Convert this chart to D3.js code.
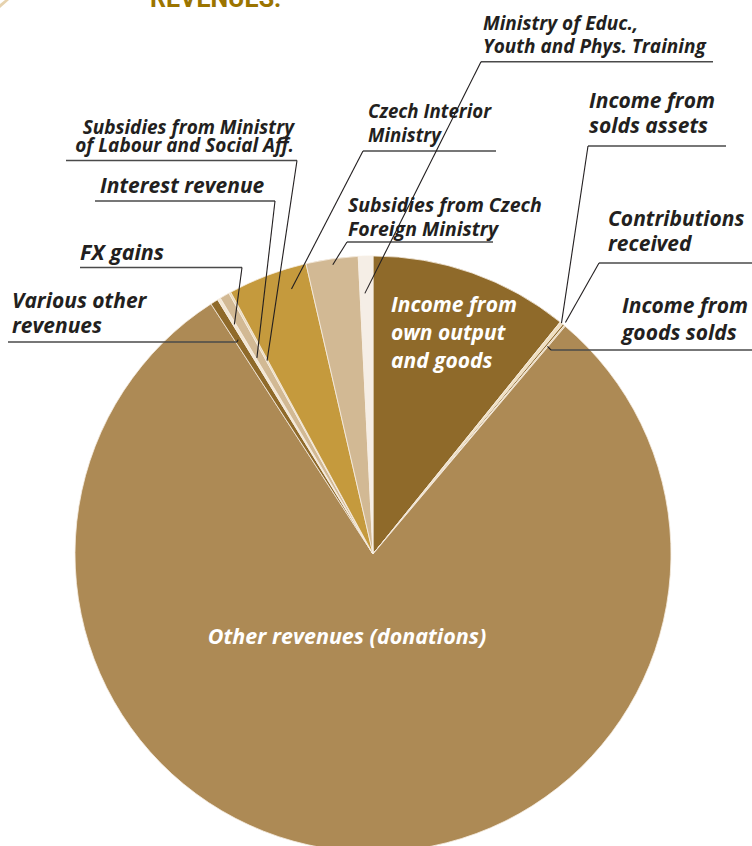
<!DOCTYPE html>
<html>
<head>
<meta charset="utf-8">
<script src="https://cdn.jsdelivr.net/npm/d3@7"></script>
<style>
  html, body { margin: 0; padding: 0; background: #fff; }
  svg { display: block; }
  text { font-family: "Open Sans", "Noto Sans", sans-serif; font-weight: 700; font-style: italic; }
</style>
</head>
<body>
<svg id="chart" width="752" height="846"></svg>
<script>
// slice order, clockwise from 12 o'clock
const categories = [
  "Income from own output and goods",
  "Income from solds assets",
  "Contributions received",
  "Income from goods solds",
  "Other revenues (donations)",
  "Various other revenues",
  "FX gains",
  "Interest revenue",
  "Subsidies from Ministry of Labour and Social Aff.",
  "Czech Interior Ministry",
  "Subsidies from Czech Foreign Ministry",
  "Ministry of Educ., Youth and Phys. Training"
];
// shares in %
const values = [10.81, 0.18, 0.10, 0.07, 79.71, 0.42, 0.17, 0.53, 0.11, 4.31, 2.82, 0.79];
const sliceColors = ["#8f6a2a", "#f0dfbf", "#8f6a2a", "#e3cda3", "#ad8a55", "#8f6a2a",
                     "#f3e7d3", "#d2b994", "#e9d8b8", "#c59a3d", "#d2b994", "#f5eee6"];
const labelLines = [
  ["Income from", "own output", "and goods"],
  ["Income from", "solds assets"],
  ["Contributions", "received"],
  ["Income from", "goods solds"],
  ["Other revenues (donations)"],
  ["Various other", "revenues"],
  ["FX gains"],
  ["Interest revenue"],
  ["Subsidies from Ministry", "of Labour and Social Aff."],
  ["Czech Interior", "Ministry"],
  ["Subsidies from Czech", "Foreign Ministry"],
  ["Ministry of Educ.,", "Youth and Phys. Training"]
];

const width = 752, height = 846;
const cx = 373, cy = 554, R = 298;

// label placement: inside labels have no leader; outside ones get an underline + leader
// at: position within the slice (0..1), rf: radius fraction where the leader ends
const layout = [
  { inside: true, x: 391, y: 312, dy: 28, size: 21, anchor: "start" },
  { x: 589, y: 108, dy: 25, size: 21, anchor: "start", u: [588, 726, 146], joint: "left", at: 0.5, rf: 1.0 },
  { x: 608, y: 226, dy: 25, size: 21, anchor: "start", u: [599, 752, 263], joint: "left", at: 0.5, rf: 1.01 },
  { x: 622, y: 313, dy: 27, size: 21, anchor: "start", u: [551, 752, 350], joint: "left", at: 0.5, rf: 0.91 },
  { inside: true, x: 347, y: 644, dy: 0, size: 21.5, anchor: "middle" },
  { x: 12, y: 308, dy: 25, size: 21, anchor: "start", u: [8, 237, 342], joint: "right", at: 0.5, rf: 0.85 },
  { x: 80, y: 260, dy: 0, size: 21.5, anchor: "start", u: [80, 242, 267.5], joint: "right", at: 0.5, rf: 0.9 },
  { x: 100, y: 193, dy: 0, size: 21, anchor: "start", u: [95, 275, 201], joint: "right", at: 0.1, rf: 0.765 },
  { x: 294, y: 133.5, dy: 18.3, size: 19, anchor: "end", u: [66, 297, 160.5], joint: "right", at: 0.5, rf: 0.74 },
  { x: 368, y: 118, dy: 24, size: 18.7, anchor: "start", u: [363, 496, 151], joint: "left", at: 0.735, rf: 0.93 },
  { x: 348, y: 212, dy: 23.5, size: 19.5, anchor: "start", u: [347, 493, 242], joint: "left", at: 0.5, rf: 0.98 },
  { x: 483, y: 30, dy: 23, size: 19, anchor: "start", u: [481, 713, 61.7], joint: "left", at: 0.37, rf: 0.875 }
];

const svg = d3.select("#chart")
    .attr("viewBox", [0, 0, width, height]);

// cut-off heading at the top edge
svg.append("polygon")
    .attr("points", "0,4 5,0 9,0 0,8")
    .attr("fill", "#e6d2ae");
svg.append("text")
    .attr("x", 150)
    .attr("y", 7)
    .attr("fill", "#9b7400")
    .style("font-family", "Roboto, sans-serif")
    .style("font-style", "normal")
    .style("font-size", "25px")
    .text("REVENUES:");

const pie = d3.pie().sort(null).value(d => d).startAngle(0).endAngle(2 * Math.PI);
const arcs = pie(values);
const arc = d3.arc().innerRadius(0).outerRadius(R);

const g = svg.append("g").attr("transform", `translate(${cx},${cy})`);

g.selectAll("path")
    .data(arcs)
    .join("path")
    .attr("d", arc)
    .attr("fill", (d, i) => sliceColors[i])
    .attr("stroke", "#f6eee2")
    .attr("stroke-width", 0.8);

// labels
const labels = svg.append("g");

layout.forEach((l, i) => {
    const t = labels.append("text")
        .attr("text-anchor", l.anchor)
        .attr("fill", l.inside ? "#ffffff" : "#231f20")
        .style("font-size", l.size + "px");
    labelLines[i].forEach((line, k) => {
        t.append("tspan")
            .attr("x", l.x)
            .attr("y", l.y + k * l.dy)
            .text(line);
    });

    if (l.inside) return;

    const a = arcs[i];
    const ang = a.startAngle + l.at * (a.endAngle - a.startAngle);
    const [px, py] = d3.pointRadial(ang, R * l.rf);
    const end = [cx + px, cy + py];
    const jx = l.joint === "left" ? l.u[0] : l.u[1];

    labels.append("line")
        .attr("x1", l.u[0]).attr("x2", l.u[1])
        .attr("y1", l.u[2]).attr("y2", l.u[2])
        .attr("stroke", "#4a4a4a")
        .attr("stroke-width", 1.5);

    labels.append("line")
        .attr("x1", jx).attr("y1", l.u[2])
        .attr("x2", end[0]).attr("y2", end[1])
        .attr("stroke", "#231f20")
        .attr("stroke-width", 1.1);
});
</script>
</body>
</html>
